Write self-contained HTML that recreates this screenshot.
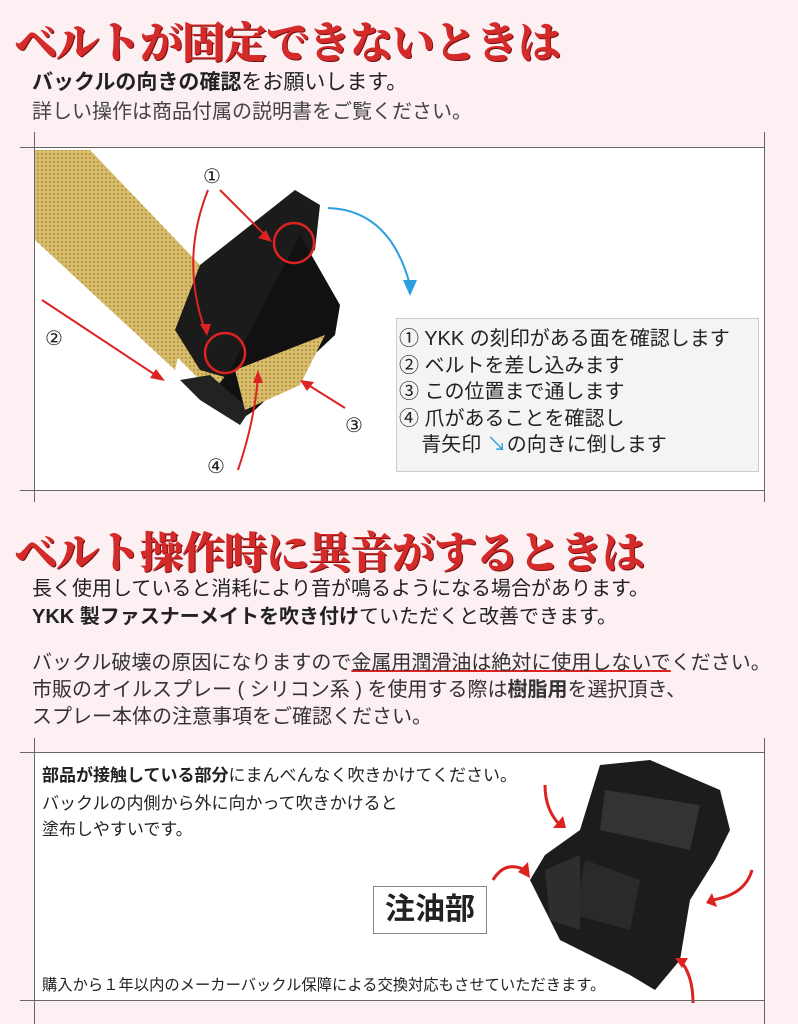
<!DOCTYPE html>
<html><head><meta charset="utf-8"><style>
body{margin:0;width:798px;height:1024px;background:#fcf0f2;position:relative;overflow:hidden;font-family:"Liberation Sans","Noto Sans CJK JP",sans-serif;color:#222}
.t{position:absolute;white-space:nowrap}
.h{font-family:"Liberation Serif","Noto Serif CJK SC",serif;font-weight:900;color:#d42a2a;font-size:43px;text-shadow:1px 1px 0 #7a1010}
.ln{position:absolute;background:#666}
</style></head><body>
<div class="t h" style="left:14px;top:10px;letter-spacing:-1px">ベルトが固定できないときは</div>
<div class="t" style="left:32px;top:66px;font-size:21px"><b>バックルの向きの確認</b>をお願いします。</div>
<div class="t" style="left:32px;top:95px;font-size:20px;color:#444">詳しい操作は商品付属の説明書をご覧ください。</div>

<div style="position:absolute;left:34px;top:148px;width:731px;height:342px;background:#fff"></div>
<div class="ln" style="left:20px;top:147px;width:745px;height:1px"></div>
<div class="ln" style="left:20px;top:490px;width:745px;height:1px"></div>
<div class="ln" style="left:34px;top:132px;width:1px;height:370px"></div>
<div class="ln" style="left:764px;top:132px;width:1px;height:370px"></div>

<svg style="position:absolute;left:0;top:0" width="798" height="1024">
<defs><pattern id="w" width="4" height="4" patternUnits="userSpaceOnUse"><rect width="4" height="4" fill="#d9bf6e"/><circle cx="2" cy="2" r="1.2" fill="#b99a48"/></pattern></defs>
<polygon points="35,150 90,150 200,265 175,370 35,240" fill="url(#w)"/>
<polygon points="160,340 200,300 330,330 320,345 245,410 200,380" fill="url(#w)"/>
<polygon points="295,190 320,205 315,250 295,260 290,330 235,380 200,370 175,330 200,265" fill="#1b1b1b"/>
<polygon points="300,235 340,305 335,335 255,410 240,420 210,395 230,370" fill="#111"/>
<polygon points="180,380 210,375 250,410 240,425 200,400" fill="#222"/>
<polygon points="235,370 325,335 300,385 245,410" fill="url(#w)"/>
<circle cx="294" cy="243" r="20" fill="none" stroke="#d22" stroke-width="2.5"/>
<circle cx="225" cy="353" r="20" fill="none" stroke="#d22" stroke-width="2.5"/>
<g stroke="#d22" stroke-width="2" fill="none">
<path d="M220,190 L268,238"/><path d="M208,190 Q180,260 205,330"/>
<path d="M42,300 L160,378"/><path d="M345,408 L305,383"/><path d="M238,470 Q255,420 258,375"/>
</g>
<g fill="#d22"><polygon points="272,242 258,238 266,230"/><polygon points="207,336 200,324 211,324"/><polygon points="165,381 150,378 156,369"/><polygon points="300,380 314,382 307,391"/><polygon points="258,370 263,383 253,383"/></g>
<path d="M328,208 Q390,210 410,285" stroke="#2aa0e0" stroke-width="2" fill="none"/>
<polygon points="403,280 417,280 410,296" fill="#2aa0e0"/>
<g font-size="20" fill="#222" font-family="DejaVu Sans,sans-serif">
<text x="203" y="183">①</text><text x="45" y="345">②</text><text x="345" y="432">③</text><text x="207" y="473">④</text></g>

<polygon points="600,765 650,760 720,790 730,830 715,860 690,900 680,960 655,990 630,975 560,940 530,880 545,855 580,830" fill="#1c1c1c"/>
<polygon points="605,790 700,805 690,850 600,830" fill="#333"/>
<polygon points="585,860 640,880 630,930 575,915" fill="#2a2a2a"/>
<polygon points="545,870 580,855 580,930 550,920" fill="#2e2e2e"/>
<g stroke="#d22" stroke-width="3" fill="none"><path d="M545,785 Q545,810 560,825"/><path d="M493,880 Q505,860 525,870"/><path d="M752,870 Q745,895 712,900"/><path d="M693,1003 Q693,975 680,960"/></g>
<g fill="#d22"><polygon points="553,828 566,828 563,816"/><polygon points="528,862 530,878 518,872"/><polygon points="712,893 706,903 717,907"/><polygon points="675,958 688,958 682,968"/></g>
</svg>

<div style="position:absolute;left:396px;top:318px;width:361px;height:152px;background:#f4f4f4;border:1px solid #ccc"></div>
<div class="t" style="left:399px;top:326px;font-size:20px;line-height:26.5px;color:#222">① YKK の刻印がある面を確認します<br>② ベルトを差し込みます<br>③ この位置まで通します<br>④ 爪があることを確認し<br>&nbsp;&nbsp;&nbsp;&nbsp;青矢印 <span style="color:#2aa0e0">↘</span>の向きに倒します</div>

<div class="t h" style="left:14px;top:520px;letter-spacing:-1px">ベルト操作時に異音がするときは</div>
<div class="t" style="left:32px;top:575px;font-size:20px;line-height:28px">長く使用していると消耗により音が鳴るようになる場合があります。<br><b>YKK 製ファスナーメイトを吹き付け</b>ていただくと改善できます。</div>
<div class="t" style="left:32px;top:650px;font-size:20px;line-height:27px;color:#333">バックル破壊の原因になりますので<span style="text-decoration:underline;text-decoration-color:#d22">金属用潤滑油は絶対に使用しないで</span>ください。<br>市販のオイルスプレー ( シリコン系 ) を使用する際は<b>樹脂用</b>を選択頂き、<br>スプレー本体の注意事項をご確認ください。</div>

<div style="position:absolute;left:34px;top:752px;width:731px;height:248px;background:#fff;z-index:-1"></div>
<div class="ln" style="left:20px;top:752px;width:745px;height:1px"></div>
<div class="ln" style="left:20px;top:1000px;width:745px;height:1px"></div>
<div class="ln" style="left:34px;top:738px;width:1px;height:286px"></div>
<div class="ln" style="left:764px;top:738px;width:1px;height:286px"></div>
<div class="t" style="left:42px;top:761px;font-size:17px"><b>部品が接触している部分</b>にまんべんなく吹きかけてください。</div>
<div class="t" style="left:42px;top:791px;font-size:17px;line-height:26px">バックルの内側から外に向かって吹きかけると<br>塗布しやすいです。</div>
<div class="t" style="left:373px;top:886px;width:112px;height:46px;border:1px solid #888;background:#fff;font-size:30px;font-weight:bold;text-align:center;line-height:46px">注油部</div>
<div class="t" style="left:42px;top:973px;font-size:15.3px">購入から１年以内のメーカーバックル保障による交換対応もさせていただきます。</div>
</body></html>
